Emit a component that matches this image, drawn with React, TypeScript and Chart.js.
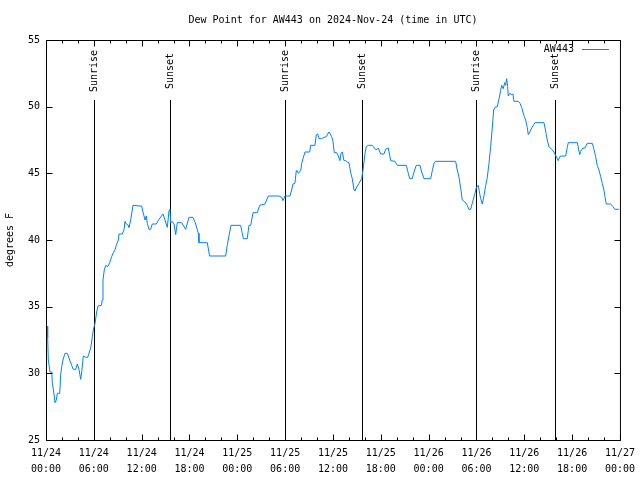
import React, { useEffect, useRef } from "react";
import { Chart, registerables } from "chart.js";

Chart.register(...registerables);

const chartTitle = "Dew Point for AW443 on 2024-Nov-24 (time in UTC)";
const seriesName = "AW443";
const yAxisTitle = "degrees F";

// hours since 2024-11-24 00:00 UTC
const hours = [
  0.13, 0.21, 0.29, 0.5, 0.72, 0.79, 0.97, 1.13, 1.29, 1.42, 1.72, 1.84, 1.97, 2.13, 2.38, 2.67, 2.97, 3.22, 3.42, 3.73,
  3.93, 4.14, 4.35, 4.48, 4.68, 4.98, 5.23, 5.39, 5.61, 5.81, 5.93, 6.15, 6.36, 6.52, 6.94, 7.06, 7.15, 7.31, 7.49, 7.74,
  7.99, 8.24, 8.4, 8.65, 8.82, 9.07, 9.16, 9.57, 9.78, 9.91, 10.07, 10.32, 10.41, 10.62, 10.91, 11.67, 12.0, 12.17, 12.42, 12.58,
  12.71, 12.92, 13.13, 13.33, 13.84, 14.17, 14.68, 14.93, 15.22, 15.43, 15.55, 15.64, 15.84, 16.06, 16.27, 16.47, 17.02, 17.52, 17.94, 18.44,
  18.78, 19.1, 19.19, 20.23, 20.53, 22.54, 22.74, 23.04, 23.21, 24.42, 24.62, 24.75, 25.25, 25.46, 25.68, 25.97, 26.51, 26.81, 27.47, 27.89,
  29.23, 29.57, 29.73, 29.98, 30.61, 30.82, 30.98, 31.23, 31.4, 31.52, 31.65, 31.95, 32.08, 32.24, 32.49, 33.08, 33.2, 33.74, 33.91, 34.08,
  34.25, 34.58, 34.87, 35.16, 35.5, 35.84, 36.0, 36.16, 36.47, 36.67, 36.88, 37.0, 37.17, 37.38, 37.59, 37.8, 38.01, 38.22, 38.42, 38.64,
  38.76, 38.92, 39.26, 39.6, 39.77, 40.02, 40.18, 40.43, 40.93, 41.18, 41.43, 41.68, 41.99, 42.4, 42.61, 42.94, 43.24, 43.78, 44.07, 45.2,
  45.45, 45.62, 45.95, 46.16, 46.45, 46.91, 47.13, 47.42, 48.26, 48.46, 48.67, 48.88, 51.39, 51.59, 51.81, 52.02, 52.22, 52.56, 52.85, 53.06,
  53.27, 53.47, 53.81, 53.97, 54.22, 54.4, 54.53, 54.73, 54.94, 55.16, 55.36, 55.57, 55.78, 55.98, 56.16, 56.32, 56.61, 56.82, 57.03, 57.16,
  57.36, 57.54, 57.66, 57.79, 57.91, 57.99, 58.17, 58.42, 58.58, 58.7, 59.24, 59.46, 59.67, 59.83, 60.0, 60.17, 60.37, 60.5, 60.68, 60.93,
  61.34, 62.47, 62.6, 62.76, 62.88, 63.1, 63.43, 63.72, 64.01, 64.26, 64.44, 64.69, 65.19, 65.39, 65.52, 66.65, 66.95, 67.07, 67.36, 67.61,
  67.9, 68.53, 68.74, 68.95, 69.15, 69.37, 69.58, 69.78, 69.99, 70.12, 70.28, 70.83, 71.12, 71.37, 71.87,
];

const dewPoint = [
  33.55, 32.7, 31.0, 30.1, 30.1, 29.3, 28.6, 27.8, 28.0, 28.5, 28.5, 29.9, 30.5, 31.0, 31.5, 31.5, 31.0, 30.6, 30.3, 30.3,
  30.7, 30.3, 29.55, 30.1, 31.3, 31.2, 31.2, 31.5, 31.9, 32.75, 33.25, 33.75, 34.6, 35.05, 35.1, 35.5, 37.0, 37.75, 38.1, 38.0,
  38.3, 38.75, 39.0, 39.25, 39.6, 40.0, 40.45, 40.45, 40.75, 41.4, 41.2, 41.1, 40.95, 41.5, 42.6, 42.55, 42.55, 42.1, 41.5, 41.8,
  41.25, 40.8, 40.8, 41.2, 41.2, 41.55, 41.95, 41.5, 40.95, 42.2, 42.3, 41.3, 41.4, 41.2, 40.4, 41.3, 41.3, 40.8, 41.7, 41.7,
  41.2, 40.5, 39.8, 39.8, 38.8, 38.8, 39.6, 40.6, 41.1, 41.1, 40.5, 40.1, 40.1, 41.1, 41.1, 42.05, 42.05, 42.6, 42.7, 43.3,
  43.3, 43.2, 42.95, 43.3, 43.3, 43.75, 44.2, 44.25, 45.2, 45.2, 45.0, 45.2, 45.75, 46.1, 46.6, 46.6, 47.1, 47.1, 47.9, 47.95,
  47.6, 47.6, 47.7, 47.75, 48.1, 47.75, 47.4, 46.55, 46.55, 46.3, 45.95, 46.5, 46.6, 45.95, 45.95, 45.85, 45.8, 45.05, 44.6, 43.75,
  43.7, 43.9, 44.25, 44.6, 45.25, 46.5, 47.0, 47.1, 47.1, 46.9, 46.75, 46.9, 46.45, 46.45, 46.8, 46.9, 45.95, 45.9, 45.6, 45.6,
  45.0, 44.6, 44.6, 45.1, 45.6, 45.6, 45.1, 44.6, 44.6, 45.2, 45.75, 45.9, 45.9, 45.25, 44.7, 43.9, 43.0, 42.85, 42.6, 42.3,
  42.3, 42.75, 43.5, 43.9, 44.1, 43.5, 43.1, 42.7, 43.3, 44.1, 44.7, 45.75, 47.0, 48.4, 49.75, 49.95, 50.0, 50.55, 51.2, 51.6,
  51.35, 51.8, 51.6, 52.1, 51.5, 50.8, 51.0, 50.9, 50.95, 50.4, 50.4, 50.25, 49.95, 49.6, 49.25, 49.0, 48.45, 47.9, 48.1, 48.4,
  48.8, 48.8, 48.4, 47.9, 47.5, 47.0, 46.8, 46.6, 46.25, 45.95, 46.25, 46.3, 46.3, 46.95, 47.3, 47.3, 46.4, 46.65, 46.9, 46.9,
  47.25, 47.25, 46.8, 46.25, 45.6, 45.25, 44.75, 44.25, 43.75, 43.25, 42.7, 42.7, 42.5, 42.3, 42.3,
];

const sunriseHours = [5.97, 29.99, 53.98];
const sunsetHours = [15.6, 39.67, 63.8];
const markerTopValue = 50.5;

const tickDates = ["11/24", "11/24", "11/24", "11/24", "11/25", "11/25", "11/25", "11/25", "11/26", "11/26", "11/26", "11/26", "11/27"];
const tickTimes = ["00:00", "06:00", "12:00", "18:00", "00:00", "06:00", "12:00", "18:00", "00:00", "06:00", "12:00", "18:00", "00:00"];

const LINE_COLOR = "rgb(0,128,255)";
const FONT = "'DejaVu Sans Mono', monospace";

const framePlugin = {
  id: "gnuplotFrame",
  beforeDatasetsDraw(chart: any) {
    const { ctx, chartArea } = chart;
    const xs = chart.scales.x;
    const ys = chart.scales.y;
    ctx.save();
    ctx.strokeStyle = "#000";
    ctx.lineWidth = 1;
    const yTop = Math.round(ys.getPixelForValue(markerTopValue));
    const drawMarker = (h: number, label: string) => {
      const px = Math.round(xs.getPixelForValue(h)) + 0.5;
      ctx.beginPath();
      ctx.moveTo(px, yTop);
      ctx.lineTo(px, chartArea.bottom);
      ctx.stroke();
      ctx.save();
      ctx.translate(px, (chartArea.top + yTop) / 2 + 1);
      ctx.rotate(-Math.PI / 2);
      ctx.fillStyle = "#000";
      ctx.font = `10px ${FONT}`;
      ctx.textAlign = "center";
      ctx.textBaseline = "middle";
      ctx.fillText(label, 0, 0);
      ctx.restore();
    };
    sunriseHours.forEach((h) => drawMarker(h, "Sunrise"));
    sunsetHours.forEach((h) => drawMarker(h, "Sunset"));
    ctx.restore();
  },
  afterDraw(chart: any) {
    const { ctx, chartArea } = chart;
    const xs = chart.scales.x;
    const ys = chart.scales.y;
    const L = chartArea.left + 0.5;
    const R = chartArea.right + 0.5;
    const T = chartArea.top + 0.5;
    const B = chartArea.bottom + 0.5;
    ctx.save();
    ctx.strokeStyle = "#000";
    ctx.lineWidth = 1;
    ctx.beginPath();
    ctx.rect(L, T, R - L, B - T);
    // x ticks (major every 6 h, minor every 2 h)
    for (let h = 0; h <= 72; h += 2) {
      const px = Math.round(xs.getPixelForValue(h)) + 0.5;
      const len = h % 6 === 0 ? 6 : 3;
      ctx.moveTo(px, B);
      ctx.lineTo(px, B - len);
      ctx.moveTo(px, T);
      ctx.lineTo(px, T + len);
    }
    for (let v = 25; v <= 55; v += 5) {
      const py = Math.round(ys.getPixelForValue(v)) + 0.5;
      ctx.moveTo(L, py);
      ctx.lineTo(L + 6, py);
      ctx.moveTo(R, py);
      ctx.lineTo(R - 6, py);
    }
    ctx.stroke();

    // title
    ctx.fillStyle = "#000";
    ctx.font = `10px ${FONT}`;
    ctx.textAlign = "center";
    ctx.textBaseline = "middle";
    ctx.fillText(chartTitle, (chartArea.left + chartArea.right) / 2, 20);

    // legend
    ctx.textAlign = "right";
    ctx.fillText(seriesName, chartArea.right - 46, chartArea.top + 9);
    ctx.strokeStyle = LINE_COLOR;
    ctx.beginPath();
    ctx.moveTo(chartArea.right - 38, chartArea.top + 9.5);
    ctx.lineTo(chartArea.right - 11, chartArea.top + 9.5);
    ctx.stroke();
    ctx.restore();
  },
};

export default function App() {
  const canvasRef = useRef<HTMLCanvasElement | null>(null);

  useEffect(() => {
    document.body.style.margin = "0";
    const canvas = canvasRef.current;
    if (!canvas) return;
    const points = hours.map((h, i) => ({ x: h, y: dewPoint[i] }));
    const chart = new Chart(canvas, {
      type: "line",
      data: {
        datasets: [
          {
            label: seriesName,
            data: points,
            borderColor: LINE_COLOR,
            borderWidth: 1,
            pointRadius: 0,
            tension: 0,
            fill: false,
          },
        ],
      },
      options: {
        animation: false,
        responsive: false,
        devicePixelRatio: 1,
        layout: { padding: { top: 40, right: 19, left: 0, bottom: 0 } },
        plugins: {
          legend: { display: false },
          tooltip: { enabled: false },
          title: { display: false },
        },
        scales: {
          x: {
            type: "linear",
            min: 0,
            max: 72,
            grid: { display: false, drawTicks: false },
            border: { display: false },
            afterFit: (scale: any) => {
              scale.height = 40;
            },
            ticks: {
              stepSize: 6,
              autoSkip: false,
              maxRotation: 0,
              minRotation: 0,
              padding: 5,
              color: "#000",
              font: { family: FONT, size: 10, lineHeight: 1.6 },
              callback: (value: any) => {
                const i = Math.round(Number(value) / 6);
                return [tickDates[i], tickTimes[i]];
              },
            },
          },
          y: {
            type: "linear",
            min: 25,
            max: 55,
            grid: { display: false, drawTicks: false },
            border: { display: false },
            afterFit: (scale: any) => {
              scale.width = 46;
            },
            title: {
              display: true,
              text: yAxisTitle,
              color: "#000",
              font: { family: FONT, size: 10 },
              padding: { top: 4, bottom: 0 },
            },
            ticks: {
              stepSize: 5,
              padding: 6,
              color: "#000",
              font: { family: FONT, size: 10 },
            },
          },
        },
      },
      plugins: [framePlugin],
    });
    return () => chart.destroy();
  }, []);

  return (
    <div style={{ position: "absolute", left: 0, top: 0, width: 640, height: 480, background: "#fff" }}>
      <canvas ref={canvasRef} width={640} height={480} />
    </div>
  );
}
